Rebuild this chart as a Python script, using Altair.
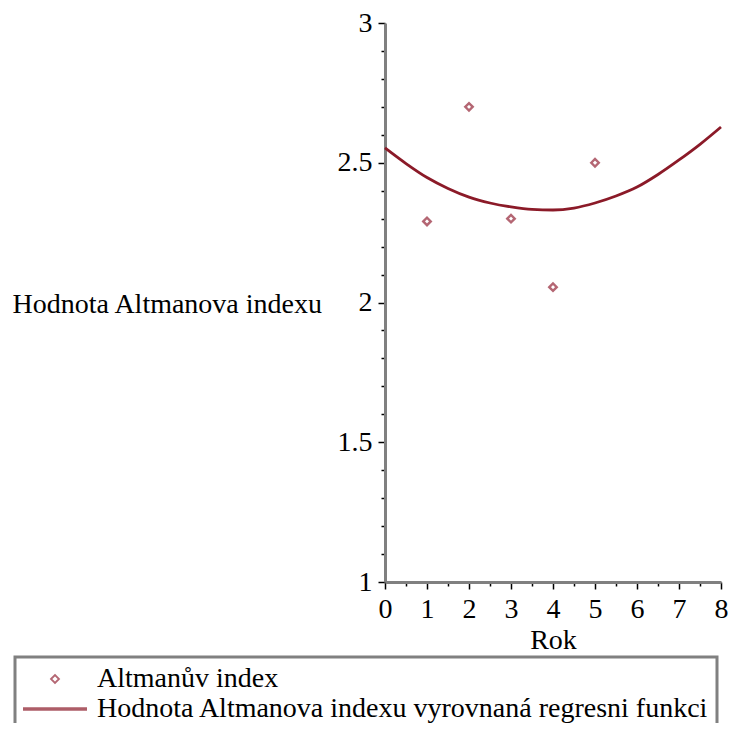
import altair as alt
import pandas as pd

FONT = "Liberation Serif"

# ---- data ----
years = [1, 2, 3, 4, 5]
altman_values = [2.29, 2.70, 2.30, 2.055, 2.50]

fit_years = [0, 0.5, 1, 1.5, 2, 2.5, 3, 3.5, 4, 4.5, 5, 5.5, 6, 6.5, 7, 7.5, 8]
fit_values = [2.553, 2.497, 2.447, 2.408, 2.377, 2.356, 2.342, 2.333, 2.331,
              2.338, 2.356, 2.381, 2.413, 2.458, 2.510, 2.566, 2.628]

series_names = ["Altmanův index",
                "Hodnota Altmanova indexu vyrovnaná regresni funkci"]

x_tick_values = [0, 0.5, 1, 1.5, 2, 2.5, 3, 3.5, 4, 4.5, 5, 5.5, 6, 6.5, 7, 7.5, 8]
y_tick_values = [1.0, 1.1, 1.2, 1.3, 1.4, 1.5, 1.6, 1.7, 1.8, 1.9, 2.0,
                 2.1, 2.2, 2.3, 2.4, 2.5, 2.6, 2.7, 2.8, 2.9, 3.0]

x_title = "Rok"
y_title = "Hodnota Altmanova indexu"

POINT_COLOR = "#952638"
LINE_COLOR = "#8B1A28"
LINE_SYMBOL = "M-8,-0.2H8M-8,0H8M-8,0.2H8"

PLOT_W = 336
LEFT = 377

pts = pd.DataFrame({"rok": years, "val": altman_values,
                    "serie": [series_names[0]] * len(years)})
fit = pd.DataFrame({"rok": fit_years, "val": fit_values})

x_scale = alt.Scale(domain=[0, 8], nice=False, zero=False)
y_scale = alt.Scale(domain=[1, 3], nice=False, zero=False)

x_axis = alt.Axis(
    values=x_tick_values,
    labelExpr="datum.value % 1 === 0 ? format(datum.value, '~g') : ''",
    tickSize={"condition": {"test": "datum.value % 1 !== 0", "value": 4}, "value": 7},
    tickColor="black", tickWidth=1.5,
    domainColor="#808080", domainWidth=3,
    labelFont=FONT, labelFontSize=28, labelColor="black",
    labelBaseline="alphabetic", labelPadding=28,
    labelOverlap=False, labelFlush=False, grid=False,
    title=x_title, titleFont=FONT, titleFontSize=28, titleFontWeight="normal",
    titleColor="black", titleX=PLOT_W / 2, titleY=66, titleAlign="center",
    titleBaseline="alphabetic",
)

y_axis = alt.Axis(
    values=y_tick_values,
    labelExpr="abs(datum.value*2 - round(datum.value*2)) < 0.001 ? format(datum.value, '~g') : ''",
    tickSize={"condition": {"test": "abs(datum.value*2 - round(datum.value*2)) > 0.001",
                            "value": 4}, "value": 7},
    tickColor="black", tickWidth=1.5,
    domainColor="#808080", domainWidth=3,
    labelFont=FONT, labelFontSize=28, labelColor="black",
    labelPadding=6, labelOverlap=False, labelFlush=False, grid=False,
    title=y_title, titleFont=FONT, titleFontSize=28, titleFontWeight="normal",
    titleColor="black", titleAngle=0, titleAlign="left", titleBaseline="alphabetic",
    titleX=12 - (LEFT + 8), titleY=289,
)

legend_kw = dict(
    orient="none", legendX=15 - (LEFT + 8), legendY=634, title=None,
    padding=8, strokeColor="#808080",
    symbolSize=64, symbolStrokeWidth=1.8, symbolOffset=18,
    labelOffset=28, labelFont=FONT, labelFontSize=28, labelColor="black",
    labelLimit=2000, rowPadding=2,
)

points = alt.Chart(pts).mark_point(filled=False, size=56, strokeWidth=2.4).encode(
    x=alt.X("rok:Q", scale=x_scale, axis=x_axis),
    y=alt.Y("val:Q", scale=y_scale, axis=y_axis),
    color=alt.Color("serie:N",
                    scale=alt.Scale(domain=series_names, range=[POINT_COLOR, LINE_COLOR]),
                    legend=alt.Legend(**legend_kw)),
    shape=alt.Shape("serie:N",
                    scale=alt.Scale(domain=series_names, range=["diamond", LINE_SYMBOL]),
                    legend=alt.Legend(**legend_kw)),
)

curve = alt.Chart(fit).mark_line(color=LINE_COLOR, strokeWidth=2.8,
                                 interpolate="monotone").encode(
    x=alt.X("rok:Q", scale=x_scale, axis=x_axis),
    y=alt.Y("val:Q", scale=y_scale, axis=y_axis),
)

chart = alt.layer(curve, points).properties(
    width=PLOT_W, height=559,
    autosize=alt.AutoSizeParams(type="none"),
    padding={"left": LEFT, "top": 15, "right": 720 - LEFT - PLOT_W, "bottom": 141},
    background="white",
).configure_view(stroke=None).configure_legend(strokeWidth=3)

chart.save("out.html", embed_options={"renderer": "svg", "actions": False})
